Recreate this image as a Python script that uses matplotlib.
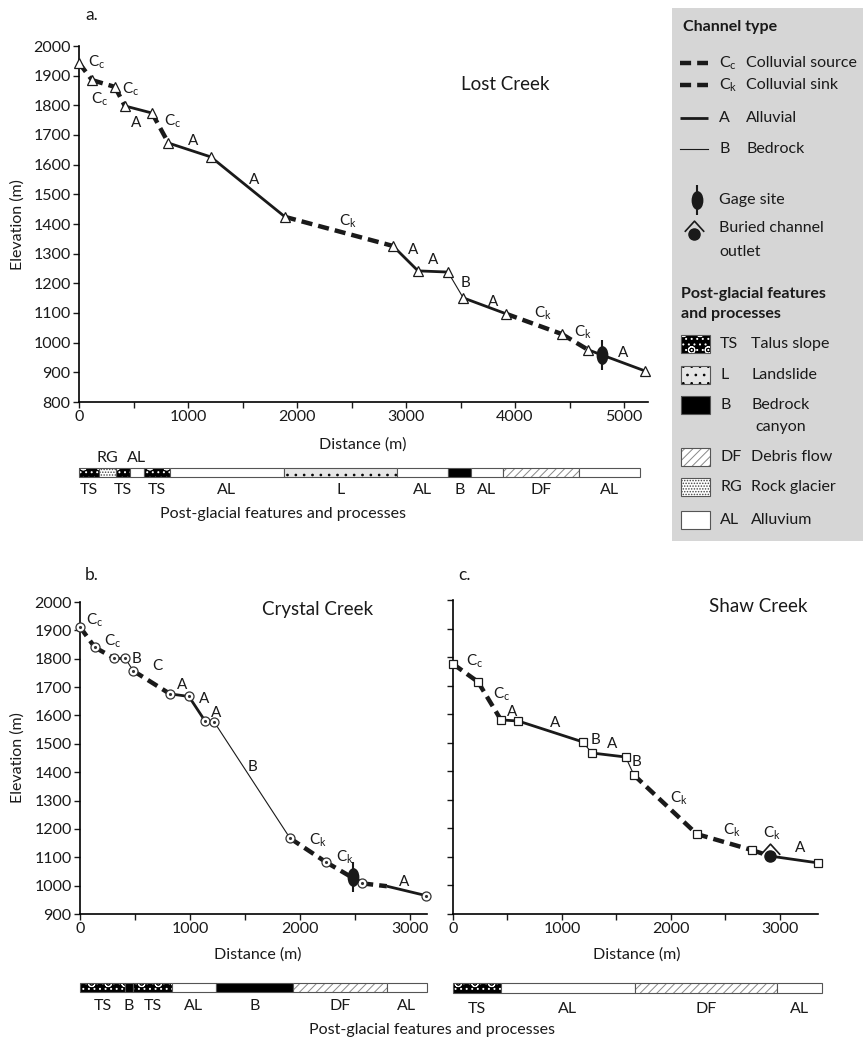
import matplotlib
matplotlib.use('Agg')
import matplotlib.pyplot as plt
from matplotlib.path import Path
from matplotlib.transforms import Affine2D
from matplotlib.patches import Rectangle
from matplotlib.ticker import MultipleLocator

plt.rcParams['font.family'] = ['Lato', 'DejaVu Sans']
plt.rcParams['mathtext.default'] = 'regular'
plt.rcParams['hatch.linewidth'] = 0.7
plt.rcParams['axes.linewidth'] = 1.2

INK = '#1a1a1a'
W, H = 863, 1040
FS = 11.5

# ---- a. Lost Creek ----
lost_dist = [0, 120, 330, 420, 670, 820, 1210, 1890, 2880, 3110, 3385, 3525, 3920, 4430, 4670, 5190]
lost_elev = [1943, 1885, 1862, 1798, 1774, 1673, 1626, 1424, 1326, 1242, 1238, 1151, 1097, 1029, 976, 905]
lost_type = ['Cc', 'Cc', 'Cc', 'A', 'Cc', 'A', 'A', 'Ck', 'A', 'A', 'B', 'A', 'Ck', 'Ck', 'A']
lost_lab = ['Cc', 'Cc', 'Cc', 'A', 'Cc', 'A', 'A', 'Ck', 'A', 'A', 'B', 'A', 'Ck', 'Ck', 'A']
lost_lab_x = [165, 193, 477, 523, 862, 1046, 1606, 2468, 3064, 3248, 3550, 3798, 4257, 4624, 4991]
lost_lab_y = [1946, 1821, 1855, 1740, 1747, 1680, 1548, 1410, 1312, 1279, 1201, 1137, 1100, 1036, 965]
lost_gage = (4800, 959)
lost_bar_code = ['TS', 'RG', 'TS', 'AL', 'TS', 'AL', 'L', 'AL', 'B', 'AL', 'DF', 'AL']
lost_bar_edge = [0, 183, 335, 468, 596, 835, 1880, 2917, 3385, 3596, 3890, 4587, 5147]
lost_bar_above = [1, 3]

# ---- b. Crystal Creek ----
cry_dist = [0, 135, 310, 410, 485, 818, 990, 1136, 1220, 1910, 2236, 2565, 2790, 3145]
cry_elev = [1912, 1840, 1802, 1802, 1757, 1676, 1667, 1581, 1577, 1167, 1083, 1008, 998, 965]
cry_type = ['Cc', 'Cc', 'A', 'B', 'C', 'A', 'A', 'A', 'B', 'Ck', 'Ck', 'Ck', 'A']
cry_nomark = [12]
cry_lab = ['Cc', 'Cc', 'B', 'C', 'A', 'A', 'A', 'B', 'Ck', 'Ck', 'A']
cry_lab_x = [136, 300, 518, 700, 927, 1127, 1236, 1564, 2164, 2409, 2945]
cry_lab_y = [1936, 1862, 1800, 1774, 1708, 1658, 1610, 1420, 1160, 1100, 1013]
cry_gage = (2480, 1030)
cry_bar_code = ['TS', 'B', 'TS', 'AL', 'B', 'DF', 'AL']
cry_bar_edge = [0, 410, 480, 836, 1236, 1936, 2790, 3155]

# ---- c. Shaw Creek ----
shaw_dist = [0, 230, 440, 600, 1190, 1275, 1585, 1660, 2238, 2743, 2910, 3350]
shaw_elev = [1776, 1713, 1580, 1576, 1503, 1464, 1450, 1387, 1180, 1124, 1103, 1079]
shaw_type = ['Cc', 'Cc', 'A', 'A', 'B', 'A', 'B', 'Ck', 'Ck', 'Ck', 'A']
shaw_nomark = [10]
shaw_lab = ['Cc', 'Cc', 'A', 'A', 'B', 'A', 'B', 'Ck', 'Ck', 'Ck', 'A']
shaw_lab_x = [202, 450, 541, 936, 1312, 1459, 1688, 2073, 2560, 2927, 3183]
shaw_lab_y = [1786, 1671, 1608, 1569, 1510, 1496, 1433, 1306, 1194, 1184, 1131]
shaw_outlet = (2910, 1103)
shaw_bar_code = ['TS', 'AL', 'DF', 'AL']
shaw_bar_edge = [0, 440, 1670, 2970, 3390]

LABEL = {'Cc': r'$C_c$', 'Ck': r'$C_k$'}
FILL = {
    'TS': dict(facecolor='black', edgecolor='white', hatch='...o'),
    'RG': dict(facecolor='white', edgecolor='#444444', hatch='......'),
    'L': dict(facecolor='#e6e6e6', edgecolor='black', hatch='..'),
    'B': dict(facecolor='black', edgecolor='black', hatch=None),
    'DF': dict(facecolor='white', edgecolor='#888888', hatch='////'),
    'AL': dict(facecolor='white', edgecolor='white', hatch=None),
}
GAGE = Path.unit_circle().transformed(Affine2D().scale(0.6, 1.0))
CARET = Path([(-1, -0.55), (0, 0.55), (1, -0.55)], [Path.MOVETO, Path.LINETO, Path.LINETO])


def seg_style(t):
    if t in ('Cc', 'Ck', 'C'):
        return dict(lw=3.2, ls=(0, (2.5, 1.36)), dash_capstyle='butt')
    if t == 'A':
        return dict(lw=2.0, solid_capstyle='butt')
    return dict(lw=0.8)


fig = plt.figure(figsize=(W / 100, H / 100), dpi=100)


def px_axes(l, t, r, b):
    ax = fig.add_axes([l / W, 1 - b / H, (r - l) / W, (b - t) / H])
    ax.patch.set_visible(False)
    return ax


ov = px_axes(0, 0, W, H)
ov.set_xlim(0, W)
ov.set_ylim(H, 0)
ov.axis('off')


def ptext(x, y, s, **kw):
    kw.setdefault('fontsize', FS)
    kw.setdefault('va', 'center')
    kw.setdefault('color', INK)
    ov.text(x, y, s, **kw)


def profile(ax, dist, elev, types, labs, lx, ly, marker, nomark, ylim, xmax, ylabels=True):
    for i, t in enumerate(types):
        ax.plot(dist[i:i + 2], elev[i:i + 2], color=INK, clip_on=False, zorder=2, **seg_style(t))
    mx = [d for i, d in enumerate(dist) if i not in nomark]
    my = [e for i, e in enumerate(elev) if i not in nomark]
    if marker == 'o':
        ax.plot(mx, my, 'o', ms=6.5, mfc='white', mec='#333333', mew=0.9, clip_on=False, zorder=3)
        ax.plot(mx, my, '.', ms=2.5, color='#333333', clip_on=False, zorder=4)
    else:
        ms = 7.5 if marker == '^' else 6
        ax.plot(mx, my, marker, ms=ms, mfc='white', mec=INK, mew=0.9, clip_on=False, zorder=3)
    for s, x, y in zip(labs, lx, ly):
        ax.text(x, y, LABEL.get(s, s), ha='center', va='center', fontsize=11, color=INK)
    ax.set_xlim(0, xmax)
    ax.set_ylim(*ylim)
    ax.spines['top'].set_visible(False)
    ax.spines['right'].set_visible(False)
    ax.xaxis.set_major_locator(MultipleLocator(1000))
    ax.xaxis.set_minor_locator(MultipleLocator(500))
    ax.yaxis.set_major_locator(MultipleLocator(100))
    ax.tick_params(which='both', direction='out', length=4, width=1, labelsize=FS,
                   pad=2, colors=INK)
    if not ylabels:
        ax.set_yticklabels([])


def gage(ax, x, y):
    ax.plot(x, y, marker='|', ms=22, mew=1.5, color=INK, zorder=5)
    ax.plot(x, y, marker=GAGE, ms=12.5, color=INK, ls='none', zorder=6)


def bar(l, t, r, b, xmax, codes, edges, above=(), below_off=1.6):
    ax = px_axes(l, t, r, b)
    ax.set_xlim(0, xmax)
    ax.set_ylim(0, 1)
    ax.axis('off')
    for i, c in enumerate(codes):
        x0, x1 = edges[i], edges[i + 1]
        ax.barh(0.5, x1 - x0, left=x0, height=1, lw=0, clip_on=False, **FILL[c])
        ax.add_patch(Rectangle((x0, 0), x1 - x0, 1, fill=False, ec='#555555', lw=0.8,
                               clip_on=False))
        yy = 2.1 if i in above else -below_off
        ax.text((x0 + x1) / 2, yy, c, ha='center', va='center', fontsize=FS, color=INK)


# panel a
ax_a = px_axes(79, 46, 648, 402)
profile(ax_a, lost_dist, lost_elev, lost_type, lost_lab, lost_lab_x, lost_lab_y,
        '^', [], (800, 2000), 5220)
gage(ax_a, *lost_gage)
bar(79, 468, 648, 477, 5220, lost_bar_code, lost_bar_edge, lost_bar_above, 1.45)

# panel b
ax_b = px_axes(80, 602, 427, 914)
profile(ax_b, cry_dist, cry_elev, cry_type, cry_lab, cry_lab_x, cry_lab_y,
        'o', cry_nomark, (900, 2000), 3155)
gage(ax_b, *cry_gage)
bar(80, 983, 427, 992, 3155, cry_bar_code, cry_bar_edge)

# panel c
ax_c = px_axes(453, 600, 818, 914)
profile(ax_c, shaw_dist, shaw_elev, shaw_type, shaw_lab, shaw_lab_x, shaw_lab_y,
        's', shaw_nomark, (900, 2000), 3350, ylabels=False)
ax_c.plot(*shaw_outlet, 'o', ms=8, color=INK, zorder=5)
ax_c.plot(shaw_outlet[0], shaw_outlet[1] + 23, marker=CARET, ms=14, mfc='none', mec=INK,
          mew=1.2, zorder=5)
bar(453, 983, 818, 993, 3350, shaw_bar_code, shaw_bar_edge)

# free text
ptext(85, 15, 'a.', fontsize=12.5)
ptext(85, 575, 'b.', fontsize=12.5)
ptext(458, 575, 'c.', fontsize=12.5)
ptext(505, 85, 'Lost Creek', fontsize=13.5, ha='center')
ptext(318, 610, 'Crystal Creek', fontsize=13.5, ha='center')
ptext(758, 607, 'Shaw Creek', fontsize=13.5, ha='center')
ptext(18, 225, 'Elevation (m)', rotation=90, ha='center')
ptext(18, 758, 'Elevation (m)', rotation=90, ha='center')
ptext(363, 445, 'Distance (m)', ha='center')
ptext(258, 955, 'Distance (m)', ha='center')
ptext(637, 955, 'Distance (m)', ha='center')
ptext(283, 514, 'Post-glacial features and processes', ha='center')
ptext(432, 1030, 'Post-glacial features and processes', ha='center')

# legend box
ov.add_patch(Rectangle((672, 8), W - 672, 533, fc='#d6d6d6', ec='none'))
ptext(683, 27, 'Channel type', fontweight='bold')
leg_rows = [(63, 'Cc', 'Colluvial source'), (85, 'Ck', 'Colluvial sink'),
            (118, 'A', 'Alluvial'), (149, 'B', 'Bedrock')]
for y, code, desc in leg_rows:
    ov.plot([680, 708], [y, y], color=INK, **seg_style(code))
    ptext(719, y, LABEL.get(code, code))
    ptext(746, y, desc)
ov.plot(697, 200, marker='|', ms=22, mew=1.5, color=INK)
ov.plot(697, 200, marker=GAGE, ms=12.5, color=INK, ls='none')
ptext(719, 200, 'Gage site')
ov.plot(694, 234, 'o', ms=8, color=INK)
ov.plot(694, 226, marker=CARET, ms=14, mfc='none', mec=INK, mew=1.2)
ptext(719, 228, 'Buried channel')
ptext(719, 252, 'outlet')
ptext(681, 294, 'Post-glacial features', fontweight='bold')
ptext(681, 314, 'and processes', fontweight='bold')
leg_patches = [(344, 'TS', 'Talus slope'), (375, 'L', 'Landslide'), (405, 'B', 'Bedrock'),
               (457, 'DF', 'Debris flow'), (487, 'RG', 'Rock glacier'), (520, 'AL', 'Alluvium')]
for y, code, desc in leg_patches:
    ov.add_patch(Rectangle((681, y - 9), 29, 18, lw=0, **FILL[code]))
    ov.add_patch(Rectangle((681, y - 9), 29, 18, fill=False, ec='#555555', lw=0.8))
    ptext(720, y, code)
    ptext(751, y, desc)
ptext(755, 427, 'canyon')

fig.savefig('out.png', dpi=100)
